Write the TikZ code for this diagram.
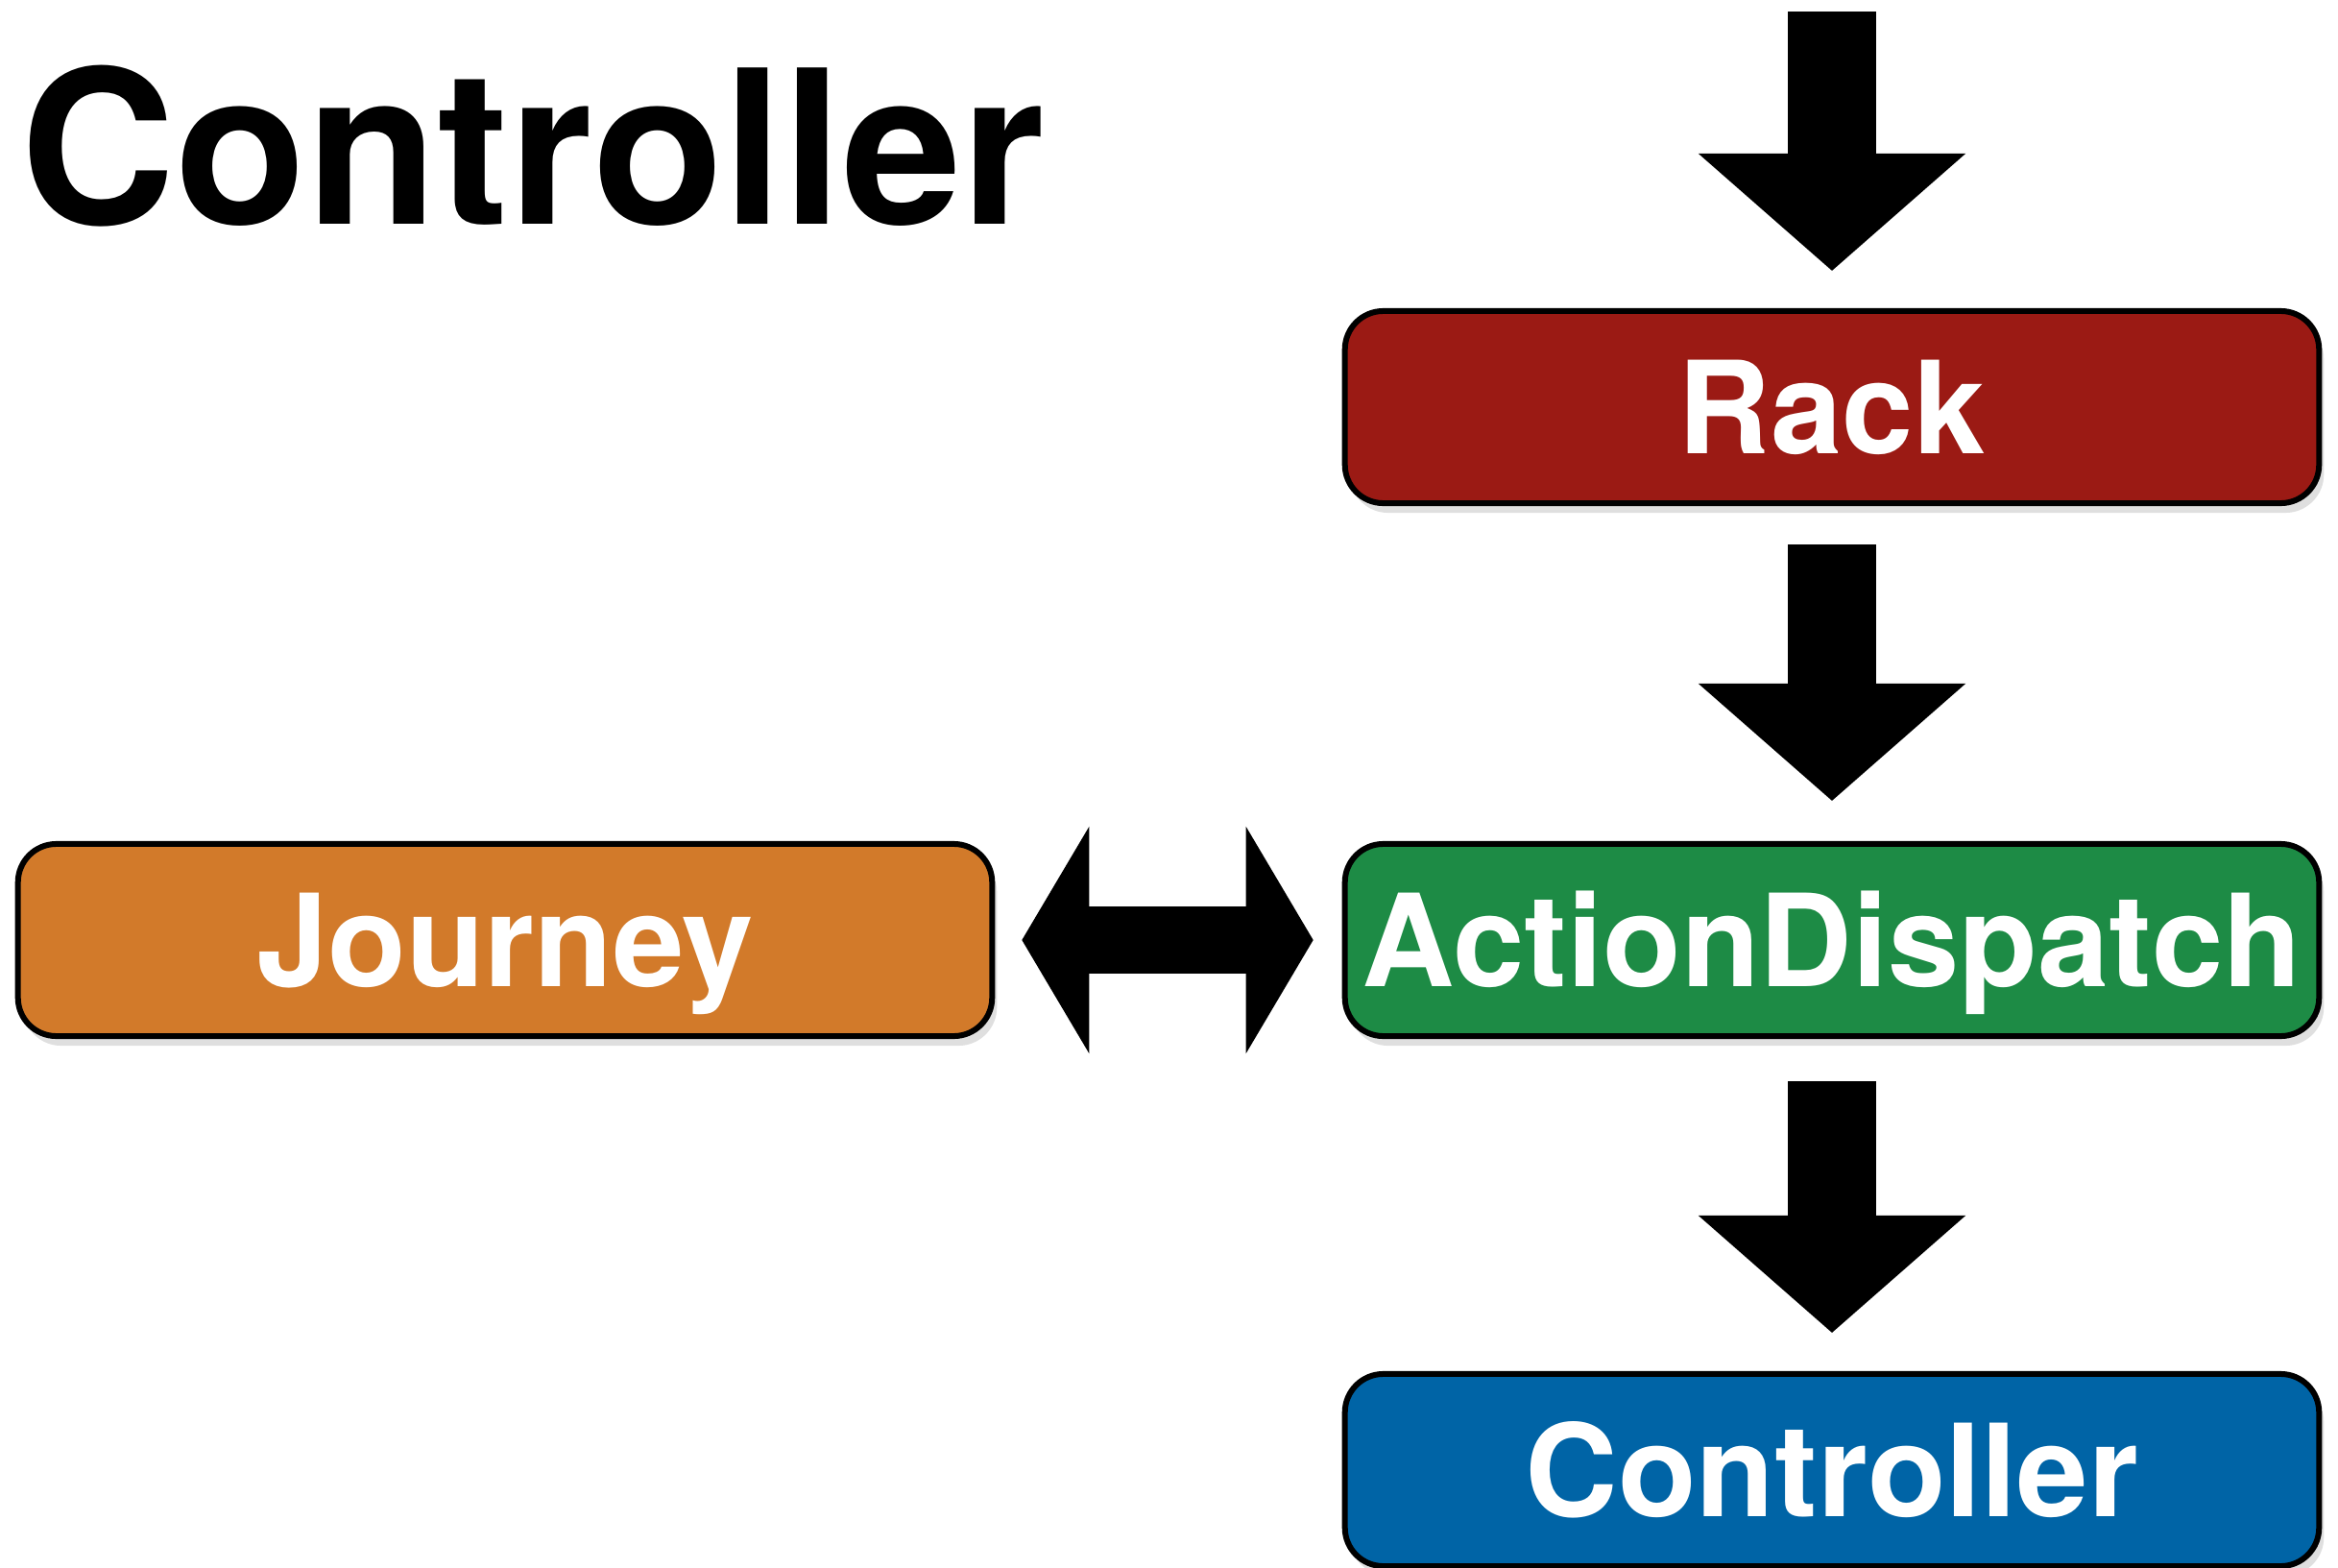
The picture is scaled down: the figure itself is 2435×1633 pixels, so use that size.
\documentclass[tikz,border=0pt]{standalone}
\usepackage{fontspec}
\setmainfont{TeX Gyre Heros}
\usepackage{tikz}
\usetikzlibrary{arrows.meta,shadows}

\definecolor{rackred}{RGB}{155,26,20}
\definecolor{dispgreen}{RGB}{29,139,69}
\definecolor{ctrlblue}{RGB}{0,100,166}
\definecolor{jrnyorange}{RGB}{210,122,42}

\begin{document}
\begin{tikzpicture}[x=0.01cm,y=-0.01cm,
        layer/.style={draw=black,line width=0.06cm,rounded corners=0.4cm,
          minimum width=10.14cm,minimum height=2.0cm,inner sep=0,
          text height=0.97cm,text depth=0pt,text=white,
          font=\fontsize{38}{40}\selectfont\bfseries,
          drop shadow={shadow xshift=0.05cm,shadow yshift=-0.1cm,opacity=0.25}},
        flow/.style={line width=0.92cm,-{Triangle[length=1.22cm,width=2.78cm,line width=0.02cm]}},
        both/.style={line width=0.70cm,{Triangle[length=0.70cm,width=2.36cm,line width=0.02cm]}-{Triangle[length=0.70cm,width=2.36cm,line width=0.02cm]}}]
        \useasboundingbox (0,0) rectangle (2435,1633);
        \node[anchor=base west,inner sep=0,font=\fontsize{63.5}{66}\selectfont\bfseries] (title) at (21,233) {Controller};
        \node[layer,fill=rackred] (rack) at (1908,424) {Rack};
        \node[layer,fill=dispgreen] (dispatch) at (1908,979) {ActionDispatch};
        \node[layer,fill=jrnyorange] (journey) at (526,979) {Journey};
        \node[layer,fill=ctrlblue] (ctrl) at (1908,1531) {Controller};
        \coordinate (entry) at (1908,12);
        \draw[flow,shorten >=0.39cm] (entry) -- (rack);
        \draw[flow,shorten <=0.40cm,shorten >=0.42cm] (rack) -- (dispatch);
        \draw[flow,shorten <=0.44cm,shorten >=0.40cm] (dispatch) -- (ctrl);
        \draw[both,shorten <=0.28cm,shorten >=0.30cm] (journey) -- (dispatch);
      \end{tikzpicture}
\end{document}
